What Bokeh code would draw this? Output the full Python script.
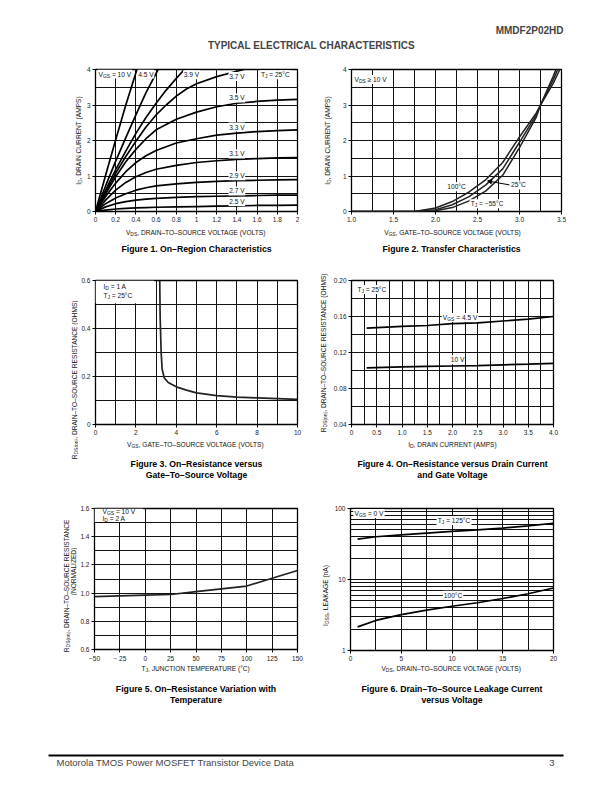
import math
from bokeh.plotting import figure
from bokeh.models import Range1d, FixedTicker, Label, Arrow, NormalHead, BoxAnnotation
from bokeh.layouts import column, row
from bokeh.embed import file_html
from bokeh.resources import INLINE

FONT = "Liberation Sans"

# ---------------- data ----------------
# Figure 1: On-region characteristics (VDS volts -> ID amps)
f1_x_10 = [0, 0.1, 0.2, 0.3, 0.41]
f1_y_10v = [0, 1.02, 2.02, 3.0, 4.0]
f1_x_45 = [0, 0.1, 0.2, 0.3, 0.4, 0.5, 0.62]
f1_y_45v = [0, 0.72, 1.42, 2.08, 2.72, 3.35, 4.0]
f1_x_39 = [0, 0.1, 0.2, 0.3, 0.4, 0.5, 0.6, 0.7, 0.8, 0.88]
f1_y_39v = [0, 0.6, 1.18, 1.7, 2.2, 2.65, 3.05, 3.42, 3.75, 4.0]
f1_x_37 = [0, 0.1, 0.2, 0.3, 0.4, 0.5, 0.6, 0.7, 0.8, 0.9, 1.0, 1.2, 1.4, 1.47]
f1_y_37v = [0, 0.55, 1.08, 1.55, 1.98, 2.38, 2.72, 3.0, 3.25, 3.45, 3.6, 3.8, 3.95, 4.0]
f1_x = [0, 0.1, 0.2, 0.3, 0.4, 0.5, 0.6, 0.8, 1.0, 1.2, 1.4, 1.6, 1.8, 2.0]
f1_y_35v = [0, 0.5, 0.98, 1.4, 1.75, 2.05, 2.3, 2.6, 2.8, 2.95, 3.05, 3.1, 3.14, 3.16]
f1_y_33v = [0, 0.42, 0.8, 1.12, 1.38, 1.57, 1.72, 1.93, 2.05, 2.15, 2.21, 2.25, 2.28, 2.3]
f1_y_31v = [0, 0.32, 0.6, 0.82, 0.98, 1.1, 1.19, 1.3, 1.38, 1.43, 1.47, 1.49, 1.51, 1.52]
f1_y_29v = [0, 0.22, 0.38, 0.5, 0.6, 0.67, 0.72, 0.78, 0.82, 0.85, 0.87, 0.88, 0.89, 0.9]
f1_y_27v = [0, 0.13, 0.22, 0.28, 0.32, 0.35, 0.37, 0.4, 0.42, 0.43, 0.44, 0.45, 0.46, 0.46]
f1_y_25v = [0, 0.04, 0.07, 0.09, 0.1, 0.11, 0.12, 0.13, 0.14, 0.15, 0.16, 0.17, 0.17, 0.18]
f1_xticks = [0, 0.2, 0.4, 0.6, 0.8, 1, 1.2, 1.4, 1.6, 1.8, 2]
f1_xlabels = ["0", "0.2", "0.4", "0.6", "0.8", "1", "1.2", "1.4", "1.6", "1.8", "2"]
f1_yticks = [0, 1, 2, 3, 4]
f1_ygrid = [0.5, 1, 1.5, 2, 2.5, 3, 3.5]

# Figure 2: Transfer characteristics (VGS -> ID)
f2_vgs = [1.0, 1.5, 1.75, 2.0, 2.2, 2.4, 2.6, 2.8, 3.0, 3.2, 3.25, 3.4, 3.5]
f2_id_100c = [0, 0, 0.0, 0.1, 0.28, 0.55, 0.9, 1.38, 2.1, 2.78, 3.0, 3.6, 4.1]
f2_id_25c = [0, 0, 0.0, 0.05, 0.19, 0.42, 0.75, 1.2, 1.95, 2.72, 3.0, 3.7, 4.25]
f2_id_m55c = [0, 0, 0.0, 0.02, 0.11, 0.3, 0.58, 1.02, 1.8, 2.66, 3.0, 3.8, 4.4]
f2_xticks = [1.0, 1.5, 2.0, 2.5, 3.0, 3.5]
f2_xlabels = ["1.0", "1.5", "2.0", "2.5", "3.0", "3.5"]
f2_xgrid = [1.25, 1.5, 1.75, 2.0, 2.25, 2.5, 2.75, 3.0, 3.25]
f2_yticks = [0, 1, 2, 3, 4]

# Figure 3: RDS(on) vs VGS
f3_vgs = [3.18, 3.2, 3.25, 3.3, 3.4, 3.6, 4.0, 4.5, 5.0, 6.0, 7.0, 8.0, 9.0, 10.0]
f3_rds = [0.6, 0.45, 0.3, 0.23, 0.195, 0.175, 0.157, 0.143, 0.132, 0.12, 0.114, 0.111, 0.108, 0.105]
f3_xticks = [0, 2, 4, 6, 8, 10]
f3_xgrid = [1, 2, 3, 4, 5, 6, 7, 8, 9]
f3_yticks = [0, 0.2, 0.4, 0.6]
f3_ylabels = ["0", "0.2", "0.4", "0.6"]
f3_ygrid = [0.1, 0.2, 0.3, 0.4, 0.5]

# Figure 4: RDS(on) vs ID
f4_id = [0.3, 1.0, 1.5, 2.0, 2.5, 3.0, 3.5, 4.0]
f4_rds_45v = [0.147, 0.149, 0.150, 0.152, 0.153, 0.155, 0.157, 0.160]
f4_rds_10v = [0.103, 0.104, 0.1045, 0.105, 0.1055, 0.1063, 0.107, 0.108]
f4_xticks = [0, 0.5, 1.0, 1.5, 2.0, 2.5, 3.0, 3.5, 4.0]
f4_xlabels = ["0", "0.5", "1.0", "1.5", "2.0", "2.5", "3.0", "3.5", "4.0"]
f4_xgrid = [0.25, 0.5, 0.75, 1.0, 1.25, 1.5, 1.75, 2.0, 2.25, 2.5, 2.75, 3.0, 3.25, 3.5, 3.75]
f4_yticks = [0.04, 0.08, 0.12, 0.16, 0.20]
f4_ylabels = ["0.04", "0.08", "0.12", "0.16", "0.20"]
f4_ygrid = [0.06, 0.08, 0.10, 0.12, 0.14, 0.16, 0.18]

# Figure 5: normalized RDS(on) vs TJ
f5_tj = [-50, -25, 0, 25, 50, 75, 100, 125, 150]
f5_rds = [0.975, 0.98, 0.985, 0.99, 1.01, 1.03, 1.05, 1.105, 1.16]
f5_xticks = [-50, -25, 0, 25, 50, 75, 100, 125, 150]
f5_xlabels = ["\u221250", "\u2212 25", "0", "25", "50", "75", "100", "125", "150"]
f5_yticks = [0.6, 0.8, 1.0, 1.2, 1.4, 1.6]
f5_ylabels = ["0.6", "0.8", "1.0", "1.2", "1.4", "1.6"]
f5_ygrid = [0.7, 0.8, 0.9, 1.0, 1.1, 1.2, 1.3, 1.4, 1.5]

# Figure 6: IDSS leakage vs VDS
f6_vds = [0.7, 2.5, 5, 7.5, 10, 12.5, 15, 17.5, 20]
f6_idss_125c = [37, 40, 42.5, 45, 47.5, 50, 53, 57, 62]
f6_idss_100c = [2.15, 2.65, 3.2, 3.7, 4.2, 4.7, 5.4, 6.3, 7.6]
f6_xticks = [0, 5, 10, 15, 20]
f6_xgrid = [2.5, 5, 7.5, 10, 12.5, 15, 17.5]
f6_yticks = [1, 10, 100]
f6_ygrid = [2, 3, 4, 5, 6, 7, 8, 9, 10, 20, 30, 40, 50, 60, 70, 80, 90]

# ---------------- text helpers ----------------
_W = {" ": 278, "(": 333, ")": 333, ",": 278, "-": 333, ".": 278, "=": 584, "\u2265": 549,
      "\u2013": 556, "\u2212": 584, "\u00b0": 400, ":": 278}
for _c in "0123456789":
    _W[_c] = 556
_W.update(dict(zip("ABCDEFGHIJKLMNOPQRSTUVWXYZ",
                   [667, 667, 722, 722, 667, 611, 778, 722, 278, 500, 667, 556, 833, 722, 778, 667,
                    778, 722, 667, 611, 722, 667, 944, 667, 667, 611])))
_W.update(dict(zip("abcdefghijklmnopqrstuvwxyz",
                   [556, 556, 500, 556, 556, 278, 556, 556, 222, 222, 500, 222, 833, 556, 556, 556,
                    556, 333, 500, 278, 556, 500, 722, 500, 500, 500])))


def tw(s, size):
    return sum(_W.get(c, 556) for c in s) / 1000.0 * size


def parse(s):
    """'V_{GS} = 10 V' -> [('V','n'),('GS','s'),(' = 10 V','n')]"""
    parts, i, buf = [], 0, ""
    while i < len(s):
        if s.startswith("_{", i):
            if buf:
                parts.append((buf, "n"))
                buf = ""
            j = s.index("}", i)
            parts.append((s[i + 2:j], "s"))
            i = j + 1
        else:
            buf += s[i]
            i += 1
    if buf:
        parts.append((buf, "n"))
    return parts


def rich(p, x, y, s, size=6.6, align="left", dx=0.0, dy=0.0, rotated=False, bg=False,
         color="#111111", style="normal"):
    parts = parse(s)
    ang = math.pi / 2 if rotated else 0.0
    if len(parts) == 1 and not bg:
        p.add_layout(Label(x=x, y=y, x_offset=dx, y_offset=dy, text=s, angle=ang,
                           text_align=align, text_baseline="middle", text_font=FONT,
                           text_font_size=f"{size}px", text_color=color, text_font_style=style))
        return
    sub = size * 0.75
    widths = [tw(t, sub if k == "s" else size) for t, k in parts]
    W = sum(widths)
    a = {"left": 0.0, "center": -W / 2.0, "right": -W}[align]
    if bg:
        n = max(1, int(round(W / (0.278 * size))))
        if rotated:
            bx, by = dx, dy + a + W / 2.0
        else:
            bx, by = dx + a + W / 2.0, dy
        p.add_layout(Label(x=x, y=y, x_offset=bx, y_offset=by, text="\u00a0" * n, angle=ang,
                           text_align="center", text_baseline="middle", text_font=FONT,
                           text_font_size=f"{size}px", background_fill_color="white",
                           padding=1))
    for (t, k), w in zip(parts, widths):
        fs = sub if k == "s" else size
        b = size * 0.32 if k == "s" else 0.0
        lead = len(t) - len(t.lstrip(" "))
        shift = tw(" " * lead, fs)
        txt = t.strip(" ")
        if txt:
            if rotated:
                xo, yo = dx + b, dy + a + shift
            else:
                xo, yo = dx + a + shift, dy - b
            p.add_layout(Label(x=x, y=y, x_offset=xo, y_offset=yo, text=txt, angle=ang,
                               text_align="left", text_baseline="middle", text_font=FONT,
                               text_font_size=f"{fs:.2f}px", text_color=color,
                               text_font_style=style))
        a += w


def make_fig(w, h, left, right, top, bottom, xr, yr, y_type="linear"):
    p = figure(width=w, height=h, x_range=xr, y_range=yr, y_axis_type=y_type,
               output_backend="svg", toolbar_location=None, title_location=None,
               min_border_left=left, min_border_right=right,
               min_border_top=top, min_border_bottom=bottom)
    p.outline_line_color = "black"
    p.outline_line_width = 1.3
    p.border_fill_color = "white"
    p.background_fill_color = "white"
    for ax in (p.xaxis[0], p.yaxis[0]):
        ax.axis_line_color = None
        ax.major_tick_line_color = "black"
        ax.major_tick_out = 3
        ax.major_tick_in = 0
        ax.minor_tick_line_color = None
        ax.major_label_text_font = FONT
        ax.major_label_text_font_size = "6.5px"
        ax.major_label_text_color = "#222222"
        ax.major_label_standoff = 2
    for g in (p.xgrid[0], p.ygrid[0]):
        g.grid_line_color = "#111111"
        g.grid_line_width = 1
    return p


def set_ticks(p, xt, xl, yt, yl, xg, yg):
    p.xaxis.ticker = FixedTicker(ticks=xt)
    p.xaxis.major_label_overrides = {t: l for t, l in zip(xt, xl)}
    p.yaxis.ticker = FixedTicker(ticks=yt)
    p.yaxis.major_label_overrides = {t: l for t, l in zip(yt, yl)}
    p.xgrid.ticker = FixedTicker(ticks=xg)
    p.ygrid.ticker = FixedTicker(ticks=yg)


def blank(w, h, left=0, right=0):
    # data x == canvas pixel x, data y == pixels from the bottom
    b = figure(width=w, height=h, x_range=Range1d(left, w - right), y_range=Range1d(0, h),
               output_backend="svg", toolbar_location=None, title_location=None,
               x_axis_location=None, y_axis_location=None,
               min_border_left=left, min_border_right=right, min_border_top=0,
               min_border_bottom=0)
    b.grid.visible = False
    b.outline_line_color = None
    return b


def bottom_strip(w, h, left, right, xlab, xlab_y, caps, cap_y, cap_dx=0.0, xlab_dx=0.0):
    b = blank(w, h, left, right)
    cx = left + (w - left - right) / 2.0
    rich(b, cx + xlab_dx, xlab_y, xlab, align="center")
    for i, c in enumerate(caps):
        rich(b, cx + cap_dx, cap_y - 11 * i, c, size=8.7, align="center", style="bold",
             color="black")
    return b


def left_strip(w, h, labels):
    b = blank(w, h)
    for text, x, y in labels:
        rich(b, x, y, text, align="center", rotated=True)
    return b


LW = 1.7

# ---------- Figure 1 ----------
p1 = make_fig(221, 165, 9, 7, 9, 14, Range1d(0, 2), Range1d(0, 4))
set_ticks(p1, f1_xticks, f1_xlabels, f1_yticks, [str(v) for v in f1_yticks], f1_xticks[1:-1], f1_ygrid)
for xs, ys in [(f1_x_10, f1_y_10v), (f1_x_45, f1_y_45v), (f1_x_39, f1_y_39v), (f1_x_37, f1_y_37v),
               (f1_x, f1_y_35v), (f1_x, f1_y_33v), (f1_x, f1_y_31v), (f1_x, f1_y_29v),
               (f1_x, f1_y_27v), (f1_x, f1_y_25v)]:
    p1.line(xs, ys, line_width=LW, color="black")
rich(p1, 0.0, 3.87, "V_{GS} = 10 V", dx=3, bg=True)
rich(p1, 0.5, 3.87, "4.5 V", align="center", bg=True)
rich(p1, 0.95, 3.85, "3.9 V", align="center", bg=True)
rich(p1, 1.4, 3.8, "3.7 V", align="center", bg=True)
rich(p1, 1.4, 3.2, "3.5 V", align="center", bg=True)
rich(p1, 1.4, 2.38, "3.3 V", align="center", bg=True)
rich(p1, 1.4, 1.62, "3.1 V", align="center", bg=True)
rich(p1, 1.4, 1.01, "2.9 V", align="center", bg=True)
rich(p1, 1.4, 0.58, "2.7 V", align="center", bg=True)
rich(p1, 1.4, 0.28, "2.5 V", align="center", bg=True)
rich(p1, 1.78, 3.85, "T_{J} = 25\u00b0C", align="center", bg=True)
l1 = left_strip(83, 202, [("I_{D}, DRAIN CURRENT (AMPS)", 78, 122)])
b1 = bottom_strip(221, 37, 9, 7, "V_{DS}, DRAIN\u2013TO\u2013SOURCE VOLTAGE (VOLTS)", 30,
                  ["Figure 1. On\u2013Region Characteristics"], 14)

# ---------- Figure 2 ----------
p2 = make_fig(265, 165, 9, 43, 9, 14, Range1d(1.0, 3.5), Range1d(0, 4))
set_ticks(p2, f2_xticks, f2_xlabels, f2_yticks, [str(v) for v in f2_yticks], f2_xgrid, f1_ygrid)
for ys in (f2_id_100c, f2_id_25c, f2_id_m55c):
    p2.line(f2_vgs, ys, line_width=1.5, color="#222222")
rich(p2, 1.0, 3.72, "V_{DS} \u2265 10 V", dx=3, bg=True)
rich(p2, 2.25, 0.7, "100\u00b0C", align="center", bg=True)
rich(p2, 2.9, 0.75, "25\u00b0C", bg=True)
rich(p2, 2.42, 0.22, "T_{J} = \u221255\u00b0C", bg=True)
p2.add_layout(Arrow(end=NormalHead(size=4, fill_color="black", line_color="black"),
                    x_start=2.88, y_start=0.75, x_end=2.62, y_end=0.86, line_width=1))
l2 = left_strip(35, 202, [("I_{D}, DRAIN CURRENT (AMPS)", 23, 122)])
b2 = bottom_strip(265, 37, 9, 43, "V_{GS}, GATE\u2013TO\u2013SOURCE VOLTAGE (VOLTS)", 30,
                  ["Figure 2. Transfer Characteristics"], 14, cap_dx=-5, xlab_dx=-3)

# ---------- Figure 3 ----------
p3 = make_fig(226, 176, 14, 7, 18, 14, Range1d(0, 10), Range1d(0, 0.6))
set_ticks(p3, f3_xticks, [str(v) for v in f3_xticks], f3_yticks, f3_ylabels, f3_xgrid, f3_ygrid)
p3.line(f3_vgs, f3_rds, line_width=LW, color="#222222")
p3.add_layout(BoxAnnotation(left=0, right=2.9, bottom=0.505, top=0.6, fill_color="white",
                            fill_alpha=1, line_color=None))
rich(p3, 0.0, 0.575, "I_{D} = 1 A", dx=8)
rich(p3, 0.0, 0.537, "T_{J} = 25\u00b0C", dx=8)
l3 = left_strip(78, 223, [("R_{DS(on)}, DRAIN\u2013TO\u2013SOURCE RESISTANCE (OHMS)", 74, 106)])
b3 = bottom_strip(226, 47, 14, 7, "V_{GS}, GATE\u2013TO\u2013SOURCE VOLTAGE (VOLTS)", 41,
                  ["Figure 3. On\u2013Resistance versus", "Gate\u2013To\u2013Source Voltage"], 22)

# ---------- Figure 4 ----------
p4 = make_fig(274, 176, 18, 51, 18, 14, Range1d(0, 4), Range1d(0.04, 0.20))
set_ticks(p4, f4_xticks, f4_xlabels, f4_yticks, f4_ylabels, f4_xgrid, f4_ygrid)
p4.line(f4_id, f4_rds_45v, line_width=LW, color="black")
p4.line(f4_id, f4_rds_10v, line_width=LW, color="black")
rich(p4, 0.0, 0.19, "T_{J} = 25\u00b0C", dx=6, bg=True)
rich(p4, 2.15, 0.159, "V_{GS} = 4.5 V", align="center", bg=True)
rich(p4, 2.1, 0.112, "10 V", align="center", bg=True)
l4 = left_strip(26, 223, [("R_{DS(on)}, DRAIN\u2013TO\u2013SOURCE RESISTANCE (OHMS)", 19, 133)])
b4 = bottom_strip(274, 47, 18, 51, "I_{D}, DRAIN CURRENT (AMPS)", 41,
                  ["Figure 4. On\u2013Resistance versus Drain Current", "and Gate Voltage"], 22)

# ---------- Figure 5 ----------
p5 = make_fig(227, 179, 15, 7, 23, 14, Range1d(-50, 150), Range1d(0.6, 1.6))
set_ticks(p5, f5_xticks, f5_xlabels, f5_yticks, f5_ylabels, f5_xticks[1:-1], f5_ygrid)
p5.line(f5_tj, f5_rds, line_width=LW, color="#222222")
p5.add_layout(BoxAnnotation(left=-50, right=-2, bottom=1.505, top=1.6, fill_color="white",
                            fill_alpha=1, line_color=None))
rich(p5, -50, 1.577, "V_{GS} = 10 V", dx=8)
rich(p5, -50, 1.531, "I_{D} = 2 A", dx=8)
l5 = left_strip(77, 225, [("R_{DS(on)}, DRAIN\u2013TO\u2013SOURCE RESISTANCE", 66, 125),
                          ("(NORMALIZED)", 73, 139)])
b5 = bottom_strip(227, 46, 15, 7, "T_{J}, JUNCTION TEMPERATURE (\u00b0C)", 42,
                  ["Figure 5. On\u2013Resistance Variation with", "Temperature"], 22)

# ---------- Figure 6 ----------
p6 = make_fig(273, 179, 17, 51, 23, 14, Range1d(0, 20), Range1d(1, 100), y_type="log")
set_ticks(p6, f6_xticks, [str(v) for v in f6_xticks], f6_yticks, [str(v) for v in f6_yticks],
          f6_xgrid, f6_ygrid)
p6.line(f6_vds, f6_idss_125c, line_width=LW, color="black")
p6.line(f6_vds, f6_idss_100c, line_width=LW, color="black")
rich(p6, 0.0, 85, "V_{GS} = 0 V", dx=4, bg=True)
rich(p6, 10.2, 68, "T_{J} = 125\u00b0C", align="center", bg=True)
rich(p6, 10.1, 6.0, "100\u00b0C", align="center", bg=True)
l6 = left_strip(27, 225, [("I_{DSS}, LEAKAGE (nA)", 21, 115)])
b6 = bottom_strip(273, 46, 17, 51, "V_{DS}, DRAIN\u2013TO\u2013SOURCE VOLTAGE (VOLTS)", 42,
                  ["Figure 6. Drain\u2013To\u2013Source Leakage Current", "versus Voltage"], 22)

# ---------- header / footer ----------
hdr = blank(604, 60)
hdr.add_layout(Label(x=563, y=30, text="MMDF2P02HD", text_align="right", text_baseline="middle",
                     text_font=FONT, text_font_size="10px", text_font_style="bold"))
hdr.add_layout(Label(x=311, y=15, text="TYPICAL ELECTRICAL CHARACTERISTICS", text_align="center",
                     text_baseline="middle", text_font=FONT, text_font_size="10px",
                     text_font_style="bold"))

ftr = blank(604, 74)
ftr.add_layout(BoxAnnotation(left=48, right=563, bottom=28, top=30, fill_color="black",
                             fill_alpha=1, line_color=None))
ftr.add_layout(Label(x=56, y=22, text="Motorola TMOS Power MOSFET Transistor Device Data",
                     text_align="left", text_baseline="middle", text_font=FONT,
                     text_font_size="9.5px"))
ftr.add_layout(Label(x=554, y=22, text="3", text_align="right", text_baseline="middle",
                     text_font=FONT, text_font_size="9.5px"))

row1 = row(l1, column(p1, b1), l2, column(p2, b2))
row2 = row(l3, column(p3, b3), l4, column(p4, b4))
row3 = row(l5, column(p5, b5), l6, column(p6, b6))
page = column(hdr, row1, row2, row3, ftr)

open("out.html", "w").write(file_html(page, INLINE))
